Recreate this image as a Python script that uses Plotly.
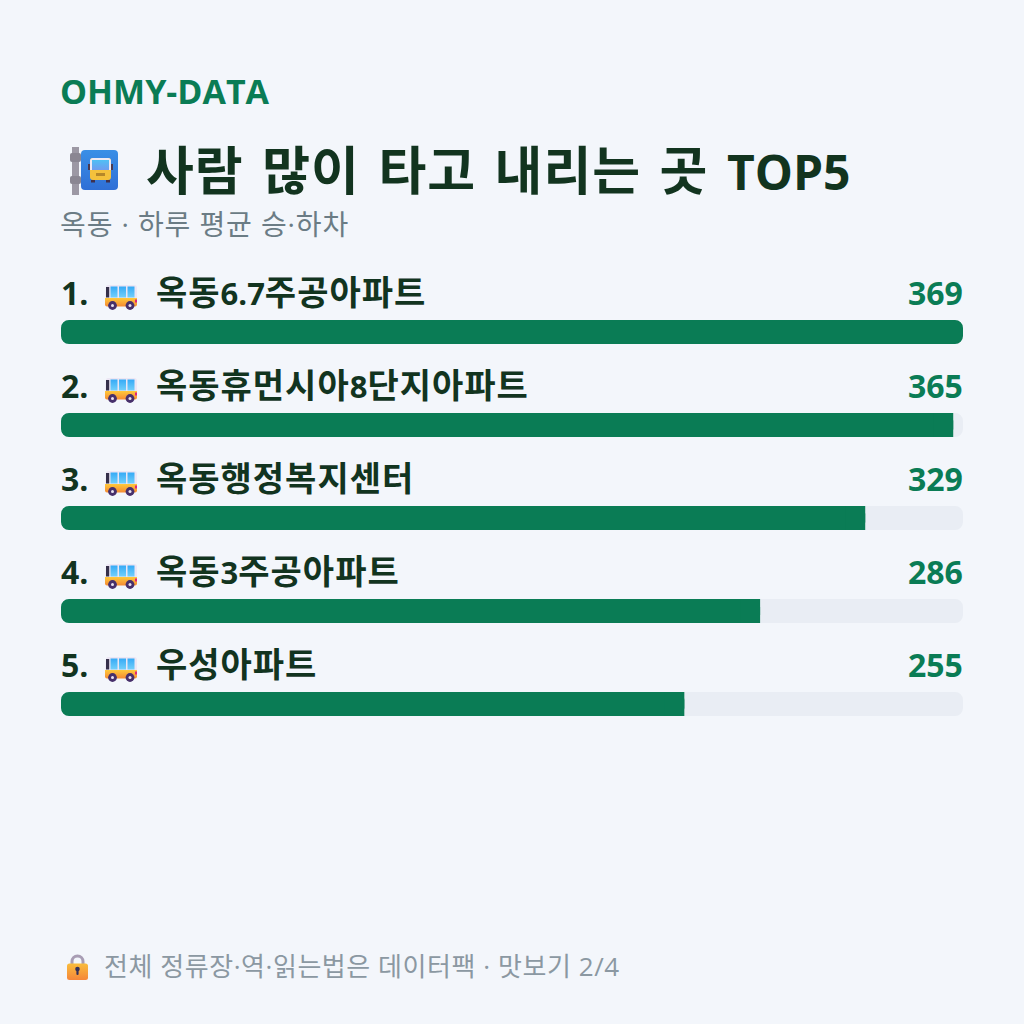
import base64
import re
import plotly.graph_objects as go

WIDTH = 1024
HEIGHT = 1024

ranks = ["1.", "2.", "3.", "4.", "5."]
stops = ["옥동6.7주공아파트", "옥동휴먼시아8단지아파트", "옥동행정복지센터", "옥동3주공아파트", "우성아파트"]
riders = [369, 365, 329, 286, 255]

brand = "OHMY-DATA"
headline = "사람 많이 타고 내리는 곳 TOP5"
subhead = "옥동 · 하루 평균 승·하차"
footnote = "전체 정류장·역·읽는법은 데이터팩 · 맛보기 2/4"

GREEN = "#0a7c55"
DARK = "#12341f"
GREY = "#6b7c85"
TRACK = "#e9edf4"
PAPER = "#f3f6fb"
FONT = "'Open Sans','Noto Sans CJK KR',sans-serif"

BAR_LEFT, BAR_RIGHT = 61, 963
ROW_TOP, ROW_STEP, BAR_HEIGHT = 285.5, 93, 24
CAP = 8  # length of the squared tip, in data units


def px(x):
    return x / WIDTH


def py(y):
    return 1 - y / HEIGHT


def svg_source(body, w, h):
    svg = f'<svg xmlns="http://www.w3.org/2000/svg" viewBox="0 0 {w} {h}" width="{w*4}" height="{h*4}">{body}</svg>'
    return "data:image/svg+xml;base64," + base64.b64encode(svg.encode()).decode()


def runs(text, hangul_size, latin_size, spacing=0, word=0, latin_spacing=0):
    """Set Hangul and Latin runs at their own sizes, with tracking."""
    def wrap(m):
        is_hangul = re.match(r"[\uac00-\ud7a3]", m.group(0))
        size = hangul_size if is_hangul else latin_size
        track = spacing if is_hangul else latin_spacing
        return f'<span style="font-size:{size}px;letter-spacing:{track}px;word-spacing:{word}px;">{m.group(0)}</span>'
    return re.sub(r"[\uac00-\ud7a3 ]+|[^\uac00-\ud7a3 ]+", wrap, text)


STOP_ICON = """
<defs><linearGradient id="a" x1="0" y1="0" x2="0" y2="1"><stop offset="0" stop-color="#3a8fe6"/><stop offset="1" stop-color="#2f6fd6"/></linearGradient>
<linearGradient id="g" x1="0" y1="0" x2="0" y2="1"><stop offset="0" stop-color="#4fc0f5"/><stop offset="1" stop-color="#6f9cf0"/></linearGradient></defs>
<rect x="2" y="0" width="7" height="48" fill="#9c98a4"/>
<rect x="0" y="6" width="11" height="9" rx="2" fill="#8a8692"/>
<rect x="0" y="29" width="11" height="8" rx="2" fill="#8a8692"/>
<rect x="11" y="3" width="37" height="40" rx="4" fill="url(#a)"/>
<rect x="20" y="11" width="21" height="22" rx="3" fill="#f4c13c"/>
<path d="M20 14a3 3 0 0 1 3-3h15a3 3 0 0 1 3 3v9H20z" fill="#eee9f3"/>
<rect x="22" y="13" width="17" height="10" fill="url(#g)"/>
<rect x="18" y="17" width="2" height="6" fill="#4a3a50"/><rect x="41" y="17" width="2" height="6" fill="#4a3a50"/>
<rect x="26" y="26" width="9" height="3" fill="#b5872a"/>
<rect x="21" y="33" width="4" height="2.5" fill="#3f3150"/><rect x="36" y="33" width="4" height="2.5" fill="#3f3150"/>
"""

BUS_ICON = """
<defs><linearGradient id="b" x1="0" y1="0" x2="0" y2="1"><stop offset="0" stop-color="#ffc93a"/><stop offset="1" stop-color="#f58a34"/></linearGradient>
<linearGradient id="w" x1="0" y1="0" x2="0" y2="1"><stop offset="0" stop-color="#35aaf6"/><stop offset="1" stop-color="#72d0fb"/></linearGradient></defs>
<path d="M1 2a2 2 0 0 1 2-2h26a3 3 0 0 1 3 3v11H0z" fill="#ece6f4"/>
<rect x="5.5" y="1.5" width="7" height="11" fill="url(#w)"/>
<rect x="14" y="1.5" width="7" height="11" fill="url(#w)"/>
<rect x="22.5" y="1.5" width="7" height="11" fill="url(#w)"/>
<rect x="1" y="2" width="3.2" height="10.5" fill="#35304a"/>
<path d="M0 13h32v6.5a2 2 0 0 1-2 2H2a2 2 0 0 1-2-2z" fill="url(#b)"/>
<rect x="30" y="14.5" width="2" height="3" fill="#e0247a"/>
<circle cx="7.5" cy="20.5" r="4.4" fill="#47306b"/><circle cx="7.5" cy="20.5" r="1.5" fill="#e9e2ef"/>
<circle cx="25" cy="20.5" r="4.4" fill="#47306b"/><circle cx="25" cy="20.5" r="1.5" fill="#e9e2ef"/>
"""

LOCK_ICON = """
<defs><linearGradient id="l" x1="0" y1="0" x2="0" y2="1"><stop offset="0" stop-color="#f9bd3c"/><stop offset="1" stop-color="#f5863a"/></linearGradient></defs>
<path d="M5 11V7.5a5.5 5.5 0 0 1 11 0V11" fill="none" stroke="#a89db4" stroke-width="3"/>
<rect x="0" y="9.5" width="21" height="16.5" rx="2.5" fill="url(#l)"/>
<circle cx="10.5" cy="15" r="2.3" fill="#33305a"/>
<rect x="9.4" y="15" width="2.2" height="6" rx="1.1" fill="#33305a"/>
"""


def icon(source, x, y, w, h):
    return dict(source=source, xref="paper", yref="paper", x=px(x), y=py(y),
                sizex=w / WIDTH, sizey=h / HEIGHT, xanchor="left", yanchor="top",
                sizing="stretch", layer="above")


max_value = max(riders)
count = len(stops)
fig = go.Figure()

# A bar with an explicit base gets all four corners rounded
fig.add_bar(y=stops, x=[max_value] * count, base=[0] * count, orientation="h",
            marker=dict(color=TRACK, cornerradius=8, line_width=0), hoverinfo="skip")
fig.add_bar(y=stops, x=riders, base=[0] * count, orientation="h",
            marker=dict(color=GREEN, cornerradius=8, line_width=0), hoverinfo="skip")
# Squared tip for bars that stop short of the track end
short = [(s, v) for s, v in zip(stops, riders) if v < max_value]
fig.add_bar(y=[s for s, _ in short], x=[CAP] * len(short), base=[v - CAP for _, v in short],
            orientation="h", marker=dict(color=GREEN, line_width=0), hoverinfo="skip")

annotations = []


def label(text, x, y, size, color, weight, anchor="left"):
    annotations.append(dict(text=text, xref="paper", yref="paper", x=px(x), y=py(y), showarrow=False,
                            xanchor=anchor, yanchor="middle",
                            font=dict(family=FONT, size=size, color=color, weight=weight)))


label(brand, 58, 90.5, 34, GREEN, 700)
label(runs(headline, 52, 48, spacing=1, word=4), 144, 169, 50, DARK, 700)
label(runs(subhead, 28, 28, spacing=0.9, latin_spacing=0.9), 58, 224, 28, GREY, 400)
label(runs(footnote, 26, 26, spacing=0.55, latin_spacing=0.55), 102, 966, 26, "#8b98a2", 400)

images = [icon(svg_source(STOP_ICON, 48, 48), 70, 147, 48, 48),
          icon(svg_source(LOCK_ICON, 21, 26), 67, 954, 21, 26)]

for i, (rank, stop, value) in enumerate(zip(ranks, stops, riders)):
    centre = ROW_TOP + ROW_STEP * (i + 0.5)
    text_y = centre - 39
    label(rank, 59, text_y - 1, 32, DARK, 700)
    label(runs(stop, 34, 31, spacing=1), 154, text_y - 1, 34, DARK, 700)
    label(str(value), 965, text_y - 1, 32, GREEN, 700, anchor="right")
    images.append(icon(svg_source(BUS_ICON, 32, 25), 105, text_y - 8, 32, 25))

fig.update_layout(
    width=WIDTH, height=HEIGHT, autosize=False,
    margin=dict(l=0, r=0, t=0, b=0),
    paper_bgcolor=PAPER, plot_bgcolor=PAPER,
    barmode="overlay", bargap=1 - BAR_HEIGHT / ROW_STEP,
    showlegend=False,
    xaxis=dict(domain=[px(BAR_LEFT), px(BAR_RIGHT)], range=[0, max_value], visible=False, fixedrange=True),
    yaxis=dict(domain=[py(ROW_TOP + ROW_STEP * count), py(ROW_TOP)], categoryorder="array",
               categoryarray=stops[::-1], visible=False, fixedrange=True),
    annotations=annotations,
    images=images,
)

fig.write_html("out.html", config={"displayModeBar": False})
